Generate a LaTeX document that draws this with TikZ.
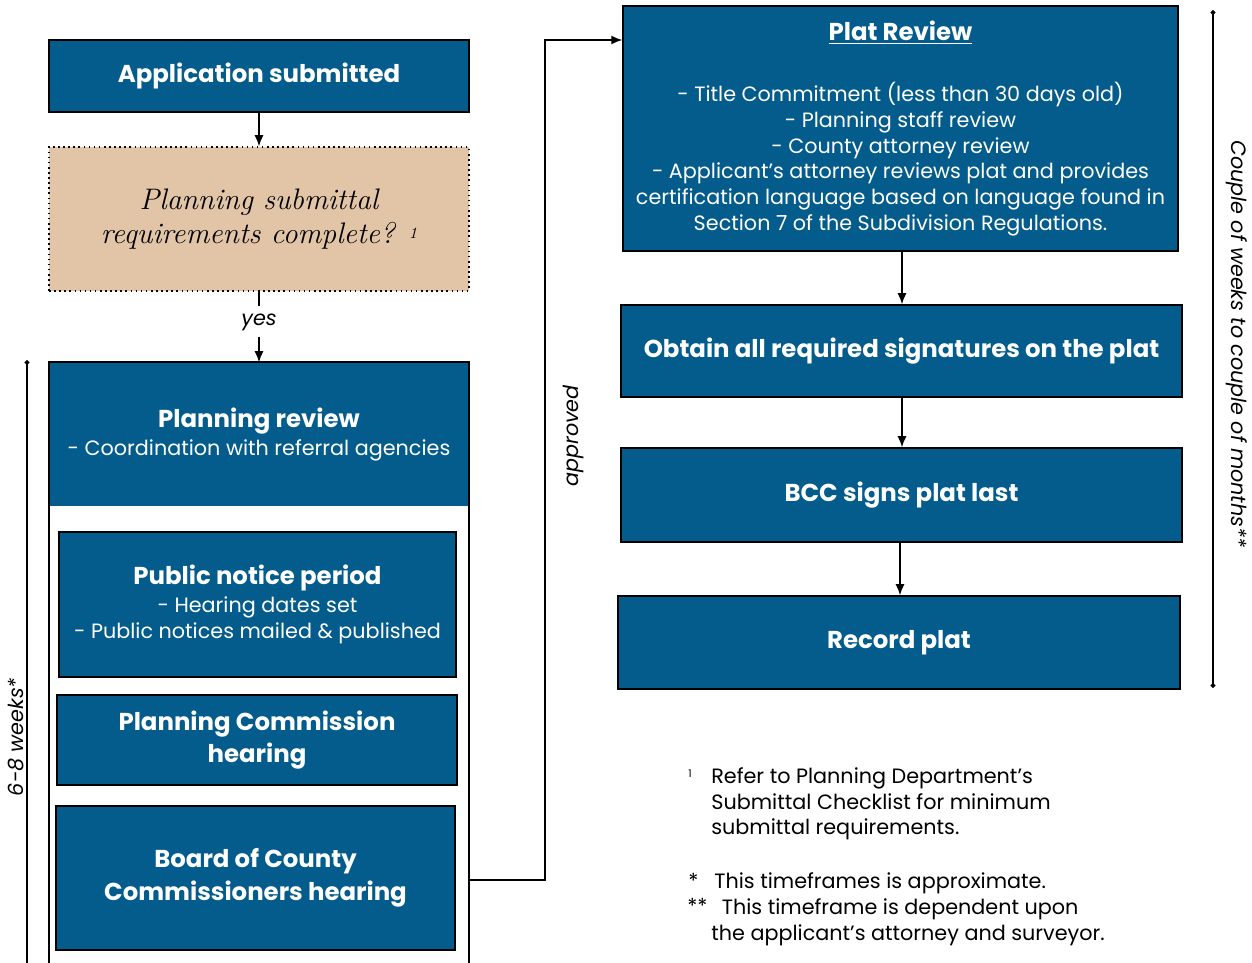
\documentclass[tikz,border=0pt]{standalone}
\usepackage{fontspec}
\newfontfamily\gothic{Poppins}
\usepackage{tikz}
\usetikzlibrary{arrows.meta,positioning}
\definecolor{planblue}{RGB}{3,92,139}
\definecolor{checktan}{RGB}{226,196,167}
\newcommand{\headtxt}[1]{{\bfseries\fontsize{13.9}{18.7}\selectfont #1}}

\begin{document}
\begin{tikzpicture}[
x=0.02cm, y=-0.02cm,
StepBox/.style={draw=black,line width=0.9pt,fill=planblue,text=white,align=center,
  inner sep=2pt,font=\gothic\fontsize{11.8}{14.7}\selectfont},
HeadBox/.style={StepBox,font=\gothic\bfseries\fontsize{13.9}{18.7}\selectfont},
CheckBox/.style={draw=black,dotted,line width=0.9pt,fill=checktan,align=center,
  font=\itshape\fontsize{16.9}{18.9}\selectfont},
Flow/.style={-{Latex[length=2.2mm,width=1.8mm]},line width=0.8pt},
Span/.style={line width=0.6pt},
SideNote/.style={font=\gothic\itshape\fontsize{11.8}{13}\selectfont},
FootNote/.style={font=\gothic\fontsize{11.8}{14.7}\selectfont,align=left,anchor=north west,inner sep=0pt}
]
\useasboundingbox (0,0) rectangle (1252,963);

% left column
\node[HeadBox,minimum width=8.4cm,minimum height=1.44cm] (app) at (259,76)
  {Application submitted};
\node[CheckBox,minimum width=8.4cm,minimum height=2.88cm] (check) at (259,219)
  {Planning submittal\\requirements complete? {\fontsize{9}{9}\selectfont\raisebox{0.6ex}{1}}};

% outer frame of the hearing stage
\draw[line width=0.9pt] (49,970) -- (49,362) -- (469,362) -- (469,970);
\node[StepBox,draw=none,minimum width=8.36cm,minimum height=2.86cm] (review) at (259,434.5)
  {\headtxt{Planning review}\\[1pt]- Coordination with referral agencies};
\draw[line width=0.9pt] (49,362) -- (469,362);

\node[StepBox,minimum width=7.94cm,minimum height=2.9cm] (notice) at (257.5,604.5)
  {\headtxt{Public notice period}\\[1pt]- Hearing dates set\\- Public notices mailed \& published};
\node[HeadBox,minimum width=8.0cm,minimum height=1.8cm] (pch) at (257,740)
  {Planning Commission\\hearing};
\node[HeadBox,minimum width=7.98cm,minimum height=2.88cm] (bcc) at (255.5,878)
  {Board of County\\Commissioners hearing};

\draw[Flow] (app) -- (check);
\draw[line width=0.8pt] (check.south) -- ++(0,14);
\node[SideNote] (yes) at (259,322) {yes};
\draw[Flow] (yes.south) -- (review.north);

% right column
\node[StepBox,minimum width=11.1cm,minimum height=4.9cm] (plat) at (900.5,128.5)
  {\headtxt{\underline{Plat Review}}\\[20pt]
   - Title Commitment (less than 30 days old)\\
   - Planning staff review\\
   - County attorney review\\
   - Applicant’s attorney reviews plat and provides\\
   certification language based on language found in\\
   Section 7 of the Subdivision Regulations.};
\node[HeadBox,minimum width=11.22cm,minimum height=1.84cm] (sign) at (901.5,351)
  {Obtain all required signatures on the plat};
\node[HeadBox,minimum width=11.22cm,minimum height=1.88cm] (bccsign) at (901.5,495)
  {BCC signs plat last};
\node[HeadBox,minimum width=11.24cm,minimum height=1.86cm] (record) at (899,642.5)
  {Record plat};

\draw[Flow] (plat.south -| 902,0) -- (sign.north -| 902,0);
\draw[Flow] (sign.south -| 902,0) -- (bccsign.north -| 902,0);
\draw[Flow] (bccsign.south -| 900,0) -- (record.north -| 900,0);

% approval link
\coordinate (hearOut) at (469,880);
\coordinate (turn) at (545,40);
\draw[Flow] (hearOut) -| (turn) -- (turn -| plat.west);
\node[SideNote,rotate=90] (approved) at (574,436) {approved};

% time spans
\coordinate (spanA) at (27,360);
\coordinate (spanB) at (27,975);
\draw[Span,{Circle[length=1mm]}-] (spanA) -- (spanB);
\node[SideNote,rotate=90] (weeks) at (16,737) {6-8 weeks*};
\coordinate (spanC) at (1213,10);
\coordinate (spanD) at (1213,688);
\draw[Span,{Circle[length=1mm]}-{Circle[length=1mm]}] (spanC) -- (spanD);
\node[SideNote,rotate=-90] (months) at (1237,344) {Couple of weeks to couple of months**};

% notes
\node[FootNote,font=\gothic\fontsize{6}{7}\selectfont] (mark1) at (688,770) {1};
\node[FootNote] (note1) at (711,767) {Refer to Planning Department’s\\Submittal Checklist for minimum\\submittal requirements.};
\node[FootNote] (mark2) at (688,873) {*};
\node[FootNote] (note2) at (714,872) {This timeframes is approximate.};
\node[FootNote] (mark3) at (687,898) {**};
\node[FootNote] (note3) at (711,898) {\hspace{6pt}This timeframe is dependent upon\\the applicant’s attorney and surveyor.};
\end{tikzpicture}
\end{document}
